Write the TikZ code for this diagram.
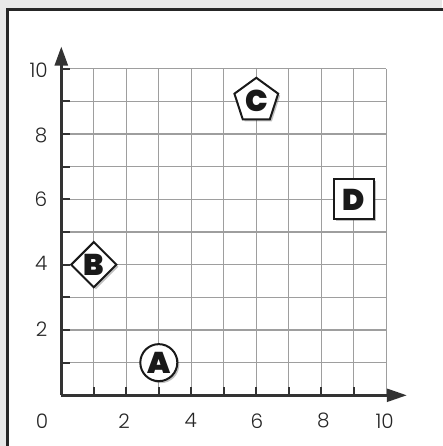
\documentclass[tikz,border=0pt]{standalone}
\usepackage{fontspec}
\setmainfont{Poppins}
\newfontfamily\numfont{Poppins Light}
\newfontfamily\letfont{Poppins Black}
\usetikzlibrary{arrows.meta,shapes.geometric,shadows}
\tikzset{
  gridline/.style={draw=black!38, line width=1.3pt},
  axisline/.style={draw=black!80, line width=2.5pt},
  tickline/.style={draw=black!80, line width=2pt},
  numlab/.style={font=\numfont\fontsize{20}{20}\selectfont, text=black!85, inner sep=0pt},
  markshape/.style={draw=black!90, line width=2pt, fill=white, inner sep=0pt,
    font=\letfont\fontsize{30}{30}\selectfont, text=black!90,
    drop shadow={shadow xshift=2pt, shadow yshift=-2pt, opacity=0.35, fill=black!70}},
}
\begin{document}
\begin{tikzpicture}[x=32.5pt,y=32.65pt]
\useasboundingbox (-61.3pt,-50.7pt) rectangle (380.7pt,395.3pt);
\fill[black!9] (-61.3pt,-50.7pt) rectangle (380.7pt,395.3pt);
\fill[white] (-54pt,-60pt) rectangle (400pt,386pt);
\draw[draw=black!85, line width=2.5pt] (-54pt,-60pt) -- (-54pt,386pt) -- (400pt,386pt);

\draw[gridline, step=1] (0,0) grid (10,10);

\coordinate (O) at (0,0);
\coordinate (xend) at (10.63,0);
\coordinate (yend) at (0,10.68);
\draw[axisline, -{Triangle[length=20pt,width=13pt]}] (O) -- (xend);
\draw[axisline, -{Triangle[length=19pt,width=13pt]}] (O) -- (yend);

\foreach \i in {1,...,9} \draw[tickline] (\i,0) -- ++(0,8pt);
\foreach \i in {1,...,10} \draw[tickline] (0,\i) -- ++(9pt,0);

\node[numlab] (x0) at (-0.59,-0.78) {0};
\node[numlab] (x2) at (1.93,-0.78) {2};
\node[numlab] (x4) at (3.98,-0.78) {4};
\node[numlab] (x6) at (6.02,-0.78) {6};
\node[numlab] (x8) at (8.06,-0.78) {8};
\node[numlab] (x10) at (9.95,-0.78) {10};

\node[numlab, anchor=east] (y10) at (-13.3pt,9.97) {10};
\node[numlab, anchor=east] (y8) at (-13.8pt,7.97) {8};
\node[numlab, anchor=east] (y6) at (-13.8pt,6.0) {6};
\node[numlab, anchor=east] (y4) at (-13.8pt,4.03) {4};
\node[numlab, anchor=east] (y2) at (-13.8pt,2.03) {2};

\node[markshape, circle, minimum size=37pt] (A) at (3,1) {A};
\node[markshape, diamond, minimum width=46pt, minimum height=46pt] (B) at (1,4) {B};
\node[markshape, regular polygon, regular polygon sides=5, minimum size=46pt] (C) at (6,9.02) {C};
\node[markshape, rectangle, minimum size=40pt] (D) at (9,6) {D};
\end{tikzpicture}
\end{document}
